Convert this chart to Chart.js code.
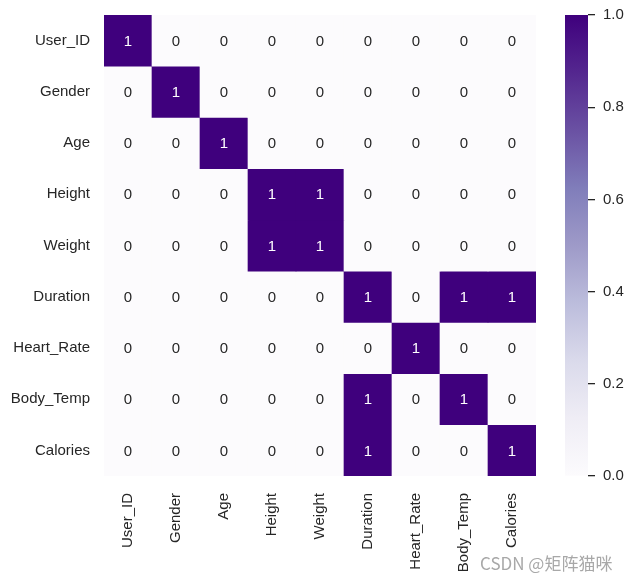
<!DOCTYPE html>
<html>
<head>
<meta charset="utf-8">
<script src="https://cdn.jsdelivr.net/npm/chart.js@4.4.1/dist/chart.umd.min.js"></script>
<style>
  html, body { margin: 0; padding: 0; background: #fff; }
  #wrap { position: relative; width: 632px; height: 581px; }
  #heat { position: absolute; left: 0; top: 0; }
  #bar { position: absolute; left: 540px; top: 0; }
  #mark {
    position: absolute; left: 480px; top: 550px;
    font-family: "Noto Sans CJK SC", "Liberation Sans", sans-serif;
    font-size: 17px; color: #a8a8a8; white-space: nowrap;
  }
</style>
</head>
<body>
<div id="wrap">
  <canvas id="heat" width="632" height="581"></canvas>
  <canvas id="bar" width="92" height="581"></canvas>
  <div id="mark">CSDN @矩阵猫咪</div>
</div>
<script>
// column / row names
const features = ['User_ID', 'Gender', 'Age', 'Height', 'Weight', 'Duration', 'Heart_Rate', 'Body_Temp', 'Calories'];

// thresholded correlation matrix, one array per row
const rowUserId    = [1, 0, 0, 0, 0, 0, 0, 0, 0];
const rowGender    = [0, 1, 0, 0, 0, 0, 0, 0, 0];
const rowAge       = [0, 0, 1, 0, 0, 0, 0, 0, 0];
const rowHeight    = [0, 0, 0, 1, 1, 0, 0, 0, 0];
const rowWeight    = [0, 0, 0, 1, 1, 0, 0, 0, 0];
const rowDuration  = [0, 0, 0, 0, 0, 1, 0, 1, 1];
const rowHeartRate = [0, 0, 0, 0, 0, 0, 1, 0, 0];
const rowBodyTemp  = [0, 0, 0, 0, 0, 1, 0, 1, 0];
const rowCalories  = [0, 0, 0, 0, 0, 1, 0, 0, 1];
const matrix = [rowUserId, rowGender, rowAge, rowHeight, rowWeight, rowDuration, rowHeartRate, rowBodyTemp, rowCalories];

// colour bar ticks
const barTicks = [0.0, 0.2, 0.4, 0.6, 0.8, 1.0];

// Purples colormap
const purples = ['#fcfbfd', '#efedf5', '#dadaeb', '#bcbddc', '#9e9ac8', '#807dba', '#6a51a3', '#54278f', '#3f007d'];

function hexToRgb(h) {
    return [parseInt(h.slice(1, 3), 16), parseInt(h.slice(3, 5), 16), parseInt(h.slice(5, 7), 16)];
}
function colorFor(v) {
    const t = Math.max(0, Math.min(1, v)) * (purples.length - 1);
    const i = Math.min(Math.floor(t), purples.length - 2);
    const f = t - i;
    const a = hexToRgb(purples[i]), b = hexToRgb(purples[i + 1]);
    const c = a.map((x, k) => Math.round(x + (b[k] - x) * f));
    return 'rgb(' + c.join(',') + ')';
}

const FONT = '"Liberation Sans", Arial, sans-serif';
const TEXT = '#262626';
Chart.defaults.font.family = FONT;
Chart.defaults.font.size = 15;
Chart.defaults.color = TEXT;

// one floating-bar dataset per row, each bar spans one row band
const datasets = matrix.map((row, r) => ({
    label: features[r],
    data: row.map(() => [r, r + 1]),
    values: row,
    backgroundColor: row.map(v => colorFor(v)),
    borderWidth: 0,
    barPercentage: 1,
    categoryPercentage: 1,
    grouped: false
}));

const cellText = {
    id: 'cellText',
    afterDatasetsDraw(chart) {
        const ctx = chart.ctx;
        ctx.save();
        ctx.font = '15px ' + FONT;
        ctx.textAlign = 'center';
        ctx.textBaseline = 'middle';
        chart.data.datasets.forEach((ds, di) => {
            chart.getDatasetMeta(di).data.forEach((el, i) => {
                const v = ds.values[i];
                ctx.fillStyle = v > 0.5 ? '#ffffff' : TEXT;
                ctx.fillText(String(v), el.x, (el.y + el.base) / 2 + 1);
            });
        });
        ctx.restore();
    }
};

new Chart(document.getElementById('heat'), {
    type: 'bar',
    data: { labels: features, datasets: datasets },
    options: {
        responsive: false,
        animation: false,
        layout: { padding: { top: 15, right: 96, left: 0, bottom: 0 } },
        plugins: { legend: { display: false }, tooltip: { enabled: false } },
        scales: {
            x: {
                grid: { display: false, drawTicks: false },
                border: { display: false },
                ticks: { maxRotation: 90, minRotation: 90, padding: 17, autoSkip: false },
                afterFit(scale) {
                    scale.height = 105;
                    scale.paddingLeft = 0;
                    scale.paddingRight = 0;
                }
            },
            y: {
                min: 0,
                max: 9,
                reverse: true,
                grid: { display: false, drawTicks: false },
                border: { display: false },
                afterBuildTicks(scale) {
                    scale.ticks = features.map((_, i) => ({ value: i + 0.5 }));
                },
                ticks: {
                    padding: 14,
                    autoSkip: false,
                    callback: function(value) { return features[Math.round(value - 0.5)]; }
                },
                afterFit(scale) {
                    scale.width = 104;
                    scale.paddingTop = 0;
                    scale.paddingBottom = 0;
                }
            }
        }
    },
    plugins: [cellText]
});

// colour bar
new Chart(document.getElementById('bar'), {
    type: 'bar',
    data: {
        labels: [''],
        datasets: [{
            data: [[0, 1]],
            borderWidth: 0,
            barPercentage: 1,
            categoryPercentage: 1,
            backgroundColor(context) {
                const area = context.chart.chartArea;
                if (!area) return purples[purples.length - 1];
                const g = context.chart.ctx.createLinearGradient(0, area.bottom, 0, area.top);
                purples.forEach((c, i) => g.addColorStop(i / (purples.length - 1), c));
                return g;
            }
        }]
    },
    options: {
        responsive: false,
        animation: false,
        layout: { padding: { top: 15, left: 25, right: 0, bottom: 105 } },
        plugins: { legend: { display: false }, tooltip: { enabled: false } },
        scales: {
            x: { display: false },
            y: {
                position: 'right',
                min: 0,
                max: 1,
                border: { display: false },
                grid: { drawOnChartArea: false, drawTicks: true, tickLength: 7, color: TEXT, lineWidth: 1.3 },
                afterBuildTicks(scale) {
                    scale.ticks = barTicks.map(v => ({ value: v }));
                },
                ticks: {
                    padding: 8,
                    callback: function(value) { return Number(value).toFixed(1); }
                },
                afterFit(scale) {
                    scale.width = 44;
                    scale.paddingTop = 0;
                    scale.paddingBottom = 0;
                }
            }
        }
    }
});
</script>
</body>
</html>
